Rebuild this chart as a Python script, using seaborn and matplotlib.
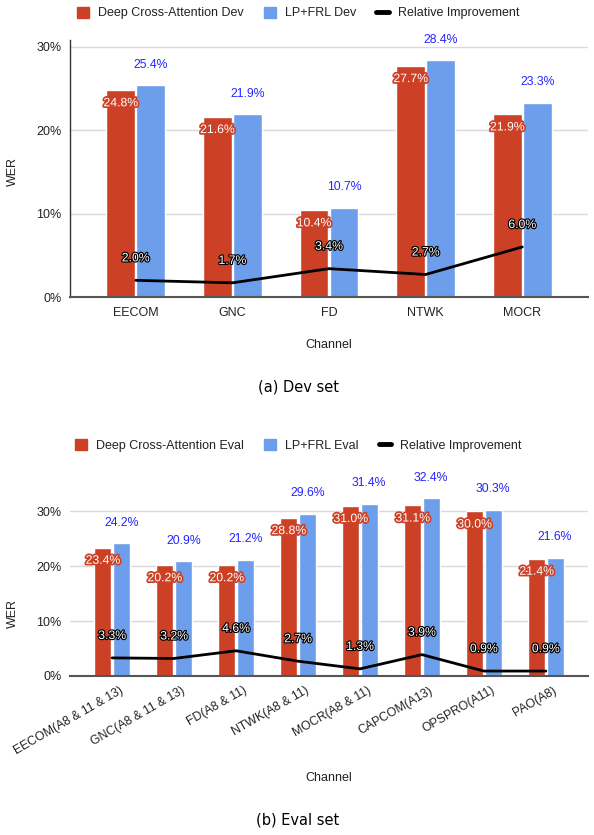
import matplotlib
matplotlib.use("Agg")
import matplotlib.pyplot as plt
import matplotlib.patheffects as pe
import matplotlib.transforms as mtransforms
from matplotlib.patches import Patch
from matplotlib.lines import Line2D
import seaborn as sns
import numpy as np
import pandas as pd

# Dev set
dev_channels = ["EECOM", "GNC", "FD", "NTWK", "MOCR"]
dev_deep = [24.8, 21.6, 10.4, 27.7, 21.9]
dev_lp = [25.4, 21.9, 10.7, 28.4, 23.3]
dev_rel = [2.0, 1.7, 3.4, 2.7, 6.0]

# Eval set
eval_channels = ["EECOM(A8 & 11 & 13)", "GNC(A8 & 11 & 13)", "FD(A8 & 11)", "NTWK(A8 & 11)",
                 "MOCR(A8 & 11)", "CAPCOM(A13)", "OPSPRO(A11)", "PAO(A8)"]
eval_deep = [23.4, 20.2, 20.2, 28.8, 31.0, 31.1, 30.0, 21.4]
eval_lp = [24.2, 20.9, 21.2, 29.6, 31.4, 32.4, 30.3, 21.6]
eval_rel = [3.3, 3.2, 4.6, 2.7, 1.3, 3.9, 0.9, 0.9]

RED = "#cc4125"
BLUE = "#6d9eeb"
LABEL_BLUE = "#2424ff"
TXT = "#222222"

sns.set_theme(style="white")
plt.rcParams["font.family"] = ["Liberation Sans", "DejaVu Sans"]

W, H = 594, 835
fig = plt.figure(figsize=(W / 100, H / 100), dpi=100)


def px_axes(left, top, right, bottom):
    return fig.add_axes([left / W, 1 - bottom / H, (right - left) / W, (bottom - top) / H])


def draw_panel(ax, channels, deep, lp, rel, names, width, gap, ylim_top, rot):
    df = pd.DataFrame({
        "Channel": channels * 2,
        "model": [names[0]] * len(channels) + [names[1]] * len(channels),
        "WER": deep + lp,
    })
    sns.barplot(data=df, x="Channel", y="WER", hue="model", order=channels,
                palette=[RED, BLUE], saturation=1, width=width, gap=gap,
                legend=False, ax=ax, zorder=2)
    for p in ax.patches:
        p.set_clip_on(False)
    n = len(channels)
    sns.lineplot(x=np.arange(n), y=rel, color="black", linewidth=2, ax=ax, zorder=3)

    # value labels
    for bar, v in zip(ax.containers[0], deep):
        ax.annotate(f"{v:.1f}%", (bar.get_x() + bar.get_width() / 2, bar.get_height()),
                    xytext=(0, -9.4), textcoords="offset points", ha="center", va="center",
                    fontsize=8.8, color="white", zorder=5, annotation_clip=False,
                    path_effects=[pe.withStroke(linewidth=2.5, foreground=RED)])
    for bar, v in zip(ax.containers[1], lp):
        ax.annotate(f"{v:.1f}%", (bar.get_x() + bar.get_width() / 2, bar.get_height()),
                    xytext=(0, 14.8), textcoords="offset points", ha="center", va="center",
                    fontsize=8.8, color=LABEL_BLUE, zorder=5, annotation_clip=False)
    for i, v in enumerate(rel):
        ax.annotate(f"{v:.1f}%", (i, v), xytext=(0, 15.8), textcoords="offset points",
                    ha="center", va="center", fontsize=8.8, color="white", zorder=6,
                    annotation_clip=False,
                    path_effects=[pe.withStroke(linewidth=1.7, foreground="black")])

    ax.set_xlim(-0.68, n - 1 + 0.68)
    ax.set_ylim(0, ylim_top)
    ax.set_yticks([0, 10, 20, 30])
    ax.set_yticklabels(["0%", "10%", "20%", "30%"])
    ax.grid(axis="y", color="#d9d9d9", linewidth=1, zorder=0)
    ax.set_axisbelow(True)
    ax.tick_params(axis="both", length=0, labelsize=9, labelcolor=TXT)
    ax.tick_params(axis="y", pad=6)
    if rot:
        ax.tick_params(axis="x", pad=6, labelsize=8.8)
        shift = mtransforms.ScaledTranslation(7 / 100, 0, fig.dpi_scale_trans)
        for lab in ax.get_xticklabels():
            lab.set_rotation(30)
            lab.set_ha("right")
            lab.set_va("top")
            lab.set_rotation_mode("anchor")
            lab.set_transform(lab.get_transform() + shift)
    else:
        ax.tick_params(axis="x", pad=7)
    for s in ["top", "right"]:
        ax.spines[s].set_visible(False)
    ax.spines["bottom"].set_color("#555555")
    ax.spines["bottom"].set_linewidth(1.5)
    ax.spines["bottom"].set_zorder(4)
    ax.set_xlabel("")
    ax.set_ylabel("")

    handles = [Patch(facecolor=RED, edgecolor=RED, label=names[0]),
               Patch(facecolor=BLUE, edgecolor=BLUE, label=names[1]),
               Line2D([0], [0], color="black", linewidth=3.5, label="Relative Improvement")]
    return handles


# top panel: Dev set
ax1 = px_axes(70, 40.2, 588, 297)
h1 = draw_panel(ax1, dev_channels, dev_deep, dev_lp, dev_rel,
                ["Deep Cross-Attention Dev", "LP+FRL Dev"], 0.62, 0.045, 30.8, False)
ax1.spines["left"].set_color("#333333")
ax1.spines["left"].set_linewidth(1)

# bottom panel: Eval set
ax2 = px_axes(70, 506, 588, 676)
h2 = draw_panel(ax2, eval_channels, eval_deep, eval_lp, eval_rel,
                ["Deep Cross-Attention Eval", "LP+FRL Eval"], 0.597, 0.07, 31.0, True)
ax2.spines["left"].set_visible(False)

for handles, ypx in [(h1, 13), (h2, 445.7)]:
    fig.legend(handles=handles, loc="center", bbox_to_anchor=(298 / W, 1 - ypx / H),
               ncol=3, frameon=False, fontsize=9, handlelength=1.0, handleheight=1.0,
               handletextpad=0.7, columnspacing=1.6, labelcolor=TXT)

# axis titles and captions
fig.text(329 / W, 1 - 345 / H, "Channel", ha="center", va="center", fontsize=9, color=TXT)
fig.text(329 / W, 1 - 778 / H, "Channel", ha="center", va="center", fontsize=9, color=TXT)
fig.text(12.5 / W, 1 - 172 / H, "WER", ha="center", va="center", rotation=90, fontsize=9, color=TXT)
fig.text(12.5 / W, 1 - 613 / H, "WER", ha="center", va="center", rotation=90, fontsize=9, color=TXT)
fig.text(298 / W, 1 - 386.7 / H, "(a) Dev set", ha="center", va="center", fontsize=10.5,
         family="DejaVu Sans", color="black")
fig.text(298 / W, 1 - 820 / H, "(b) Eval set", ha="center", va="center", fontsize=10.5,
         family="DejaVu Sans", color="black")

fig.savefig("out.png", dpi=100)
